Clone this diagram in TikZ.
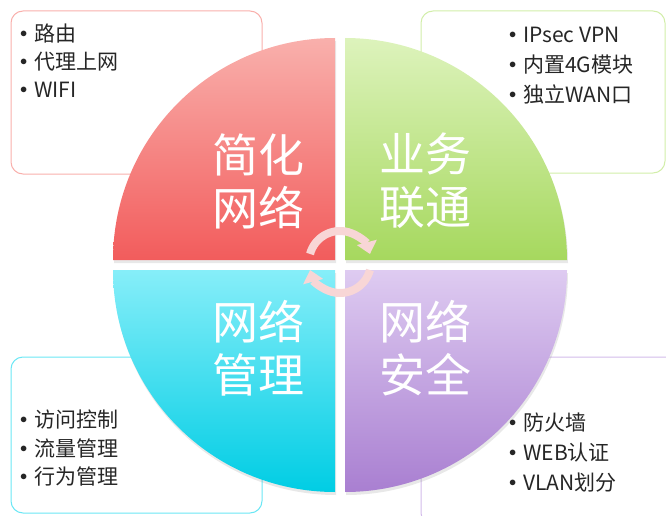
\documentclass[tikz,border=0pt]{standalone}
\usepackage{fontspec}
\setmainfont{Noto Sans CJK SC}
\usetikzlibrary{arrows.meta,shadows}
\definecolor{redtop}{HTML}{F9B0AC}
\definecolor{redbot}{HTML}{F25C5C}
\definecolor{greentop}{HTML}{DDF3BC}
\definecolor{greenbot}{HTML}{A6D85E}
\definecolor{cyantop}{HTML}{86EEF9}
\definecolor{cyanbot}{HTML}{00CDE4}
\definecolor{purpletop}{HTML}{DECBF1}
\definecolor{purplebot}{HTML}{A97FD1}
\definecolor{arrowpink}{HTML}{F8D6D6}
\newcommand{\bul}{\makebox[14pt][l]{\raisebox{4pt}{\fontsize{14}{14}\selectfont$\bullet$}}}
\begin{document}
\begin{tikzpicture}[x=1pt,y=1pt,
    box/.style={rounded corners=12pt,line width=1pt,fill=white},
    quarter/.style={drop shadow={opacity=0.18,shadow xshift=1pt,shadow yshift=-3pt}},
    listtext/.style={anchor=north west,inner sep=0pt,align=left,text=black!85},
    bigtext/.style={text=white,align=center,inner sep=0pt,font=\fontsize{46}{53}\selectfont},
    cyclearrow/.style={line width=8pt,draw=arrowpink,-{Triangle[width=20pt,length=12pt]}}]
    \useasboundingbox (0,0) rectangle (666,515);

    % the four boxes behind the circle
    \draw[box,draw=redtop] (11,341) rectangle (262,504);
    \draw[box,draw=greentop!80!greenbot] (421,342) rectangle (665,504);
    \draw[box,draw=cyantop!80!cyanbot] (11,2) rectangle (262,158);
    \draw[box,draw=purpletop!80!purplebot] (421,-10) rectangle (680,158);

    % the four quarters of the circle
    \path[quarter,top color=redtop,bottom color=redbot] (335,255) -- ++(180:222) arc (180:90:222) -- cycle;
    \path[quarter,top color=greentop,bottom color=greenbot] (345,255) -- ++(0:222) arc (0:90:222) -- cycle;
    \path[quarter,top color=cyantop,bottom color=cyanbot] (335,245) -- ++(180:222) arc (180:270:222) -- cycle;
    \path[quarter,top color=purpletop,bottom color=purplebot] (345,245) -- ++(0:222) arc (0:-90:222) -- cycle;

    \node[bigtext] (simplify) at (258,334) {简化\\网络};
    \node[bigtext] (business) at (425,334) {业务\\联通};
    \node[bigtext] (manage) at (258,167) {网络\\管理};
    \node[bigtext] (security) at (425,167) {网络\\安全};

    % turning arrows in the middle
    \coordinate (hub) at (340,253);
    \draw[cyclearrow] ([shift={(165:31)}]hub) arc (165:15:31);
    \draw[cyclearrow] ([shift={(-15:31)}]hub) arc (-15:-165:31);

    \node[listtext,font=\fontsize{21}{28}\selectfont] (simplifylist) at (20,491) {\bul 路由\\\bul 代理上网\\\bul WIFI};
    \node[listtext,font=\fontsize{21}{30}\selectfont] (businesslist) at (509,488) {\bul IPsec VPN\\\bul 内置4G模块\\\bul 独立WAN口};
    \node[listtext,font=\fontsize{21}{28.5}\selectfont] (managelist) at (20,105) {\bul 访问控制\\\bul 流量管理\\\bul 行为管理};
    \node[listtext,font=\fontsize{21}{30}\selectfont] (securitylist) at (509,102) {\bul 防火墙\\\bul WEB认证\\\bul VLAN划分};
\end{tikzpicture}
\end{document}
